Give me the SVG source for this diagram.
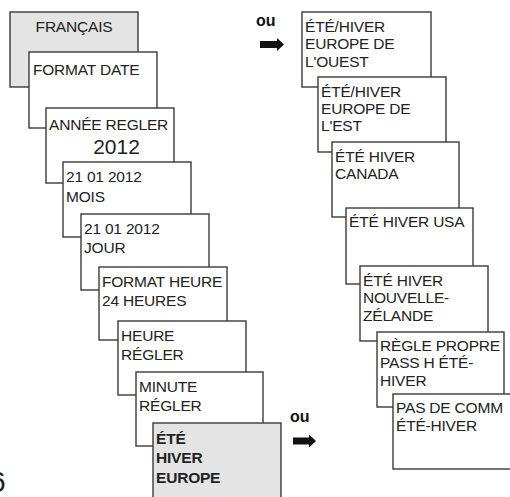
<svg xmlns="http://www.w3.org/2000/svg" width="510" height="497" viewBox="0 0 510 497">
<defs>
<style>
.box{fill:#fff;stroke:#3a3a3a;stroke-width:1.4}
.grey{fill:#e4e4e4}
text{font-family:"Liberation Sans",Arial,sans-serif;font-size:15.5px;letter-spacing:-0.2px;fill:#222}
.b{font-weight:bold}
.ou{font-weight:bold;font-size:16px;letter-spacing:0;fill:#111}
.arrow{fill:#111}
</style>
</defs>
<rect width="510" height="497" fill="#fff"/>
<g id="n1"><rect class="box grey" x="10" y="12" width="128" height="75"/><text x="74" y="32" text-anchor="middle">FRANÇAIS</text></g>
<g id="n2"><rect class="box" x="29" y="52" width="128" height="76"/><text x="33" y="75">FORMAT DATE</text></g>
<g id="n3"><rect class="box" x="46" y="108" width="128" height="75"/><text x="49" y="130">ANNÉE REGLER</text><text x="116.5" y="154" text-anchor="middle" style="font-size:21px;letter-spacing:0">2012</text></g>
<g id="n4"><rect class="box" x="63" y="162" width="128" height="75"/><text x="66" y="182">21 01 2012</text><text x="66" y="202">MOIS</text></g>
<g id="n5"><rect class="box" x="81" y="214" width="128" height="76"/><text x="84" y="234">21 01 2012</text><text x="84" y="253">JOUR</text></g>
<g id="n6"><rect class="box" x="99" y="267" width="128" height="73"/><text x="102" y="287">FORMAT HEURE</text><text x="102" y="306">24 HEURES</text></g>
<g id="n7"><rect class="box" x="118" y="321" width="128" height="74"/><text x="121" y="341">HEURE</text><text x="121" y="360">RÉGLER</text></g>
<g id="n8"><rect class="box" x="136" y="372" width="127" height="74"/><text x="139" y="392">MINUTE</text><text x="139" y="411">RÉGLER</text></g>
<g id="n9"><rect class="box grey" x="153" y="423" width="128" height="80"/><text class="b" x="156" y="444">ÉTÉ</text><text class="b" x="156" y="463">HIVER</text><text class="b" x="156" y="483">EUROPE</text></g>
<g id="r1"><rect class="box" x="302" y="12" width="129" height="75"/><text x="305" y="32">ÉTÉ/HIVER</text><text x="305" y="49">EUROPE DE</text><text x="305" y="67">L'OUEST</text></g>
<g id="r2"><rect class="box" x="318" y="77" width="128" height="75"/><text x="321" y="97">ÉTÉ/HIVER</text><text x="321" y="114">EUROPE DE</text><text x="321" y="131">L'EST</text></g>
<g id="r3"><rect class="box" x="332" y="142" width="127" height="75"/><text x="335" y="162">ÉTÉ HIVER</text><text x="335" y="179">CANADA</text></g>
<g id="r4"><rect class="box" x="346" y="208" width="127" height="76"/><text x="349" y="227">ÉTÉ HIVER USA</text></g>
<g id="r5"><rect class="box" x="360" y="266" width="128" height="75"/><text x="363" y="286">ÉTÉ HIVER</text><text x="363" y="303">NOUVELLE-</text><text x="363" y="321">ZÉLANDE</text></g>
<g id="r6"><rect class="box" x="377" y="332" width="127" height="75"/><text x="380" y="351">RÈGLE PROPRE</text><text x="380" y="368">PASS H ÉTÉ-</text><text x="380" y="386">HIVER</text></g>
<g id="r7"><rect class="box" x="393" y="394" width="130" height="75"/><text x="396" y="413">PAS DE COMM</text><text x="396" y="431">ÉTÉ-HIVER</text></g>
<g id="connectors">
<text class="ou" x="256" y="26">ou</text>
<path class="arrow" d="M260,41 H277 V38 L284,44.5 L277,51 V48 H260 Z"/>
<text class="ou" x="290" y="422">ou</text>
<path class="arrow" d="M293,437.5 H309 V434.5 L316,441 L309,447.5 V444.5 H293 Z"/>
</g>
<text x="-11" y="492" style="font-size:30px;letter-spacing:0">6</text>
</svg>
